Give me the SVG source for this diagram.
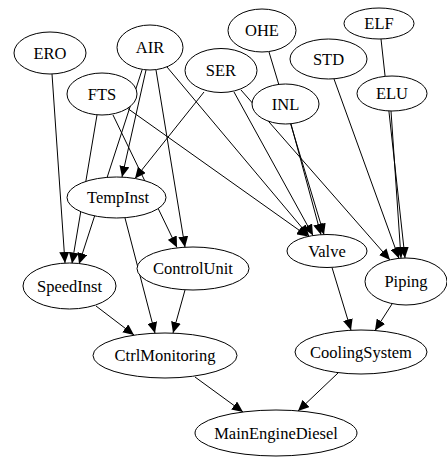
<svg xmlns="http://www.w3.org/2000/svg" width="447" height="459" viewBox="0 0 447 459">
  <style>
    .node ellipse { fill: #ffffff; stroke: #000000; stroke-width: 1; }
    .node text { font-family: "Liberation Serif", "Times New Roman", serif; font-size: 16.5px; fill: #000000; text-anchor: middle; }
    .edge { stroke: #000000; stroke-width: 1; fill: none; marker-end: url(#arrow); }
  </style>
  <defs>
    <marker id="arrow" markerUnits="userSpaceOnUse" markerWidth="11" markerHeight="10" refX="11" refY="5" orient="auto">
      <path d="M0,0 L11,5 L0,10 Z" fill="#000000"/>
    </marker>
  </defs>
  <rect width="447" height="459" fill="#ffffff"/>

  <!-- connectors (drawn beneath the nodes) -->
  <g id="edges">
    <line class="edge" x1="52" y1="74" x2="65" y2="263"/>
    <line class="edge" x1="97" y1="115" x2="72" y2="263.5"/>
    <line class="edge" x1="142" y1="70" x2="79" y2="264"/>
    <line class="edge" x1="146" y1="70" x2="122" y2="177"/>
    <line class="edge" x1="204" y1="92" x2="135" y2="178.5"/>
    <line class="edge" x1="156" y1="70" x2="185" y2="247.3"/>
    <line class="edge" x1="113" y1="115" x2="177" y2="247.5"/>
    <line class="edge" x1="125" y1="218" x2="155" y2="333.2"/>
    <line class="edge" x1="96" y1="306" x2="134" y2="335"/>
    <line class="edge" x1="185" y1="290" x2="173" y2="333"/>
    <line class="edge" x1="167" y1="67" x2="309" y2="236"/>
    <line class="edge" x1="127" y1="108" x2="308" y2="236.5"/>
    <line class="edge" x1="234" y1="92" x2="313" y2="235.5"/>
    <line class="edge" x1="269" y1="52" x2="324" y2="234.7"/>
    <line class="edge" x1="291" y1="124" x2="321" y2="234.8"/>
    <line class="edge" x1="241" y1="90" x2="390" y2="260"/>
    <line class="edge" x1="334" y1="79" x2="399" y2="258.5"/>
    <line class="edge" x1="381" y1="39" x2="405" y2="258"/>
    <line class="edge" x1="391" y1="111" x2="401" y2="258"/>
    <line class="edge" x1="332" y1="267.5" x2="351" y2="330.2"/>
    <line class="edge" x1="392" y1="304" x2="375" y2="330.5"/>
    <line class="edge" x1="195" y1="377" x2="243" y2="412"/>
    <line class="edge" x1="338" y1="373" x2="298" y2="411"/>
  </g>

  <!-- nodes -->
  <g id="nodes">
    <g id="ERO" class="node"><ellipse cx="50" cy="53" rx="36" ry="21"/><text x="50" y="58.5">ERO</text></g>
    <g id="AIR" class="node"><ellipse cx="150" cy="47.5" rx="33" ry="22.5"/><text x="150" y="53">AIR</text></g>
    <g id="FTS" class="node"><ellipse cx="102" cy="94" rx="35" ry="21"/><text x="102" y="99.5">FTS</text></g>
    <g id="SER" class="node"><ellipse cx="221" cy="70.5" rx="36" ry="22"/><text x="221" y="76">SER</text></g>
    <g id="OHE" class="node"><ellipse cx="262" cy="30.5" rx="34" ry="21.5"/><text x="262" y="36">OHE</text></g>
    <g id="STD" class="node"><ellipse cx="328.5" cy="59" rx="38.5" ry="20"/><text x="328.5" y="64.5">STD</text></g>
    <g id="ELF" class="node"><ellipse cx="379" cy="23.5" rx="35" ry="15.5"/><text x="379" y="29">ELF</text></g>
    <g id="ELU" class="node"><ellipse cx="392" cy="93.5" rx="35" ry="17.5"/><text x="392" y="99">ELU</text></g>
    <g id="INL" class="node"><ellipse cx="285.5" cy="104" rx="33.5" ry="20"/><text x="285.5" y="109.5">INL</text></g>
    <g id="TempInst" class="node"><ellipse cx="116.5" cy="197.5" rx="49.5" ry="20.5"/><text x="118" y="203">TempInst</text></g>
    <g id="SpeedInst" class="node"><ellipse cx="69.5" cy="286" rx="46.5" ry="23"/><text x="69.5" y="291.5">SpeedInst</text></g>
    <g id="ControlUnit" class="node"><ellipse cx="193" cy="268.5" rx="56" ry="21.5"/><text x="193" y="274">ControlUnit</text></g>
    <g id="Valve" class="node"><ellipse cx="327" cy="251" rx="40" ry="16.5"/><text x="327" y="256.5">Valve</text></g>
    <g id="Piping" class="node"><ellipse cx="406" cy="281.5" rx="41" ry="23.5"/><text x="406" y="287">Piping</text></g>
    <g id="CtrlMonitoring" class="node"><ellipse cx="165" cy="355.5" rx="72" ry="22.5"/><text x="165" y="361">CtrlMonitoring</text></g>
    <g id="CoolingSystem" class="node"><ellipse cx="361" cy="352" rx="66" ry="22"/><text x="361" y="357.5">CoolingSystem</text></g>
    <g id="MainEngineDiesel" class="node"><ellipse cx="276" cy="433" rx="81" ry="23"/><text x="276" y="438.5">MainEngineDiesel</text></g>
  </g>
</svg>
